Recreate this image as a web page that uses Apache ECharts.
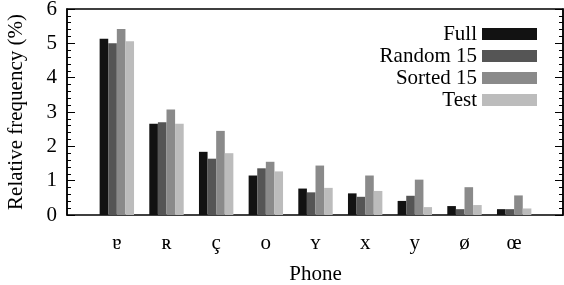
<!DOCTYPE html>
<html>
<head>
<meta charset="utf-8">
<script src="https://cdn.jsdelivr.net/npm/echarts@6/dist/echarts.min.js"></script>
<style>
  html, body { margin: 0; padding: 0; background: #fff; }
  #chart { width: 564px; height: 285px; }
</style>
</head>
<body>
<div id="chart"></div>
<script>
// phones on the x axis
const phones = ['ɐ', 'ʀ', 'ç', 'o', 'ʏ', 'x', 'y', 'ø', 'œ']
// relative frequency (%) per subset
const full     = [5.13, 2.66, 1.84, 1.15, 0.77, 0.63, 0.41, 0.26, 0.17]
const random15 = [5.00, 2.70, 1.64, 1.36, 0.66, 0.53, 0.56, 0.17, 0.17]
const sorted15 = [5.42, 3.07, 2.45, 1.55, 1.44, 1.15, 1.03, 0.81, 0.57]
const test     = [5.06, 2.66, 1.80, 1.27, 0.79, 0.70, 0.23, 0.29, 0.19]
const seriesNames = ['Full', 'Random 15', 'Sorted 15', 'Test']
const seriesColors = ['#121212', '#555555', '#8a8a8a', '#bcbcbc']

const serif = 'Liberation Serif'
const txt = { fontFamily: serif, fontSize: 21, color: '#000' }
const chart = echarts.init(document.getElementById('chart'))

// grid 0 = frame + y ticks, grid 1 = the bars (narrower so groups are 50px apart)
const bar = (name, data, i) => ({
  name: name,
  type: 'bar',
  xAxisIndex: 1,
  yAxisIndex: 2,
  barWidth: 8.6,
  barGap: '0%',
  itemStyle: { color: seriesColors[i] },
  data: data
})

const option = {
  animation: false,
  textStyle: { fontFamily: serif },
  legend: {
    orient: 'vertical',
    align: 'right',
    right: 22,
    top: 18,
    itemWidth: 55,
    itemHeight: 12,
    itemGap: 0,
    icon: 'rect',
    textStyle: Object.assign({ lineHeight: 22 }, txt),
    data: seriesNames
  },
  // outerBoundsMode none: keep the grids exactly where they are set
  grid: [
    { left: 67, right: 1, top: 9, bottom: 70, outerBoundsMode: 'none', show: true, borderColor: '#000', borderWidth: 1.5 },
    { left: 92, width: 447, top: 9, bottom: 70, outerBoundsMode: 'none' }
  ],
  xAxis: [
    { gridIndex: 0, type: 'value', min: 0, max: 1, show: false },
    {
      gridIndex: 1,
      type: 'category',
      data: phones,
      axisLine: { show: false },
      axisTick: { show: false },
      axisLabel: Object.assign({ margin: 18 }, txt),
      name: 'Phone',
      nameLocation: 'middle',
      nameGap: 49,
      nameTextStyle: txt
    }
  ],
  yAxis: [
    {
      gridIndex: 0,
      type: 'value',
      min: 0,
      max: 6,
      interval: 1,
      name: 'Relative frequency (%)',
      nameLocation: 'middle',
      nameGap: 40,
      nameTextStyle: txt,
      axisLine: { show: true, lineStyle: { color: '#000', width: 1.5 } },
      axisTick: { inside: true, length: 8, lineStyle: { color: '#000' } },
      minorTick: { show: true, splitNumber: 5, length: 4, lineStyle: { color: '#000' } },
      axisLabel: Object.assign({ margin: 10 }, txt),
      splitLine: { show: false }
    },
    {
      gridIndex: 0,
      type: 'value',
      position: 'right',
      min: 0,
      max: 6,
      interval: 1,
      axisLine: { show: true, lineStyle: { color: '#000', width: 1.5 } },
      axisTick: { inside: true, length: 8, lineStyle: { color: '#000' } },
      minorTick: { show: true, splitNumber: 5, length: 4, lineStyle: { color: '#000' } },
      axisLabel: { show: false },
      splitLine: { show: false }
    },
    { gridIndex: 1, type: 'value', min: 0, max: 6, show: false }
  ],
  series: [
    bar('Full', full, 0),
    bar('Random 15', random15, 1),
    bar('Sorted 15', sorted15, 2),
    bar('Test', test, 3)
  ]
}
chart.setOption(option)
</script>
</body>
</html>
